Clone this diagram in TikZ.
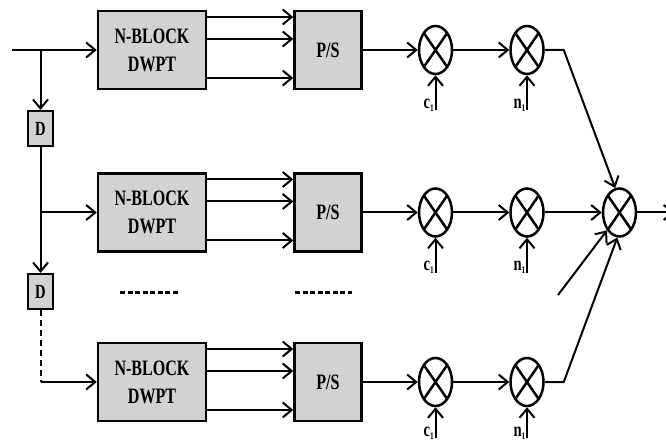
\documentclass[tikz,border=0pt]{standalone}
\usepackage{fontspec}
\setmainfont{Liberation Serif}[FakeStretch=0.73]
\usetikzlibrary{arrows.meta,positioning,shapes.geometric}
\definecolor{blkgray}{HTML}{D2D2D2}
\newcommand{\idx}[1]{\raisebox{-3pt}{\fontsize{10}{10}\selectfont #1}}

\begin{document}
\begin{tikzpicture}[x=1pt, y=1pt,
      blk/.style={draw, line width=2.5pt, fill=blkgray, align=center, inner sep=0pt,
                  minimum width=108pt, minimum height=78pt, font=\fontsize{22}{28}\selectfont\bfseries},
      psbox/.style={blk, minimum width=67pt},
      dbox/.style={blk, line width=2pt, minimum width=25pt, minimum height=35pt, font=\fontsize{20}{22}\selectfont\bfseries},
      mixer/.style={draw, ellipse, line width=2.5pt, inner sep=0pt, minimum width=33pt, minimum height=48pt,
                    path picture={\draw[line width=2.5pt] (path picture bounding box.north west) -- (path picture bounding box.south east)
                                  (path picture bounding box.south west) -- (path picture bounding box.north east);}},
      lbl/.style={font=\fontsize{20}{20}\selectfont\bfseries, inner sep=0pt},
      arr/.style={-{Straight Barb[length=9pt, width=15pt]}, line width=2pt},
      ln/.style={line width=2pt},
      dots/.style={line width=3pt, dash pattern=on 5pt off 2.5pt}]
    \useasboundingbox (0,0) rectangle (666,-443);
    % row 1
    \node[blk] (blk1) at (152,-50) {N-BLOCK\\DWPT};
    \node[psbox, right=86pt of blk1] (ps1) {P/S};
    \node[mixer, right=55pt of ps1] (mc1) {};
    \node[mixer, right=56pt of mc1] (mn1) {};
    % row 2
    \node[blk, below=82pt of blk1] (blk2) {N-BLOCK\\DWPT};
    \node[psbox, right=86pt of blk2] (ps2) {P/S};
    \node[mixer, right=55pt of ps2] (mc2) {};
    \node[mixer, right=56pt of mc2] (mn2) {};
    \node[mixer, right=57pt of mn2] (comb) {};
    % row 3
    \node[blk, below=89pt of blk2] (blk3) {N-BLOCK\\DWPT};
    \node[psbox, right=86pt of blk3] (ps3) {P/S};
    \node[mixer, right=55pt of ps3] (mc3) {};
    \node[mixer, right=56pt of mc3] (mn3) {};
    % delays
    \node[dbox] (d1) at (40.5,-128.5) {D};
    \node[dbox] (d2) at (40.5,-291.5) {D};
    \coordinate (in) at (12,-50);
    \coordinate (tap1) at (d1 |- blk1);
    \coordinate (tap2) at (d1 |- blk2);
    \coordinate (tap3) at (d2 |- blk3);
    \draw[arr] (in) -- (blk1); \draw[arr] (tap1) -- (d1);
    \draw[ln] (d1) -- (tap2); \draw[arr] (tap2) -- (blk2); \draw[arr] (tap2) -- (d2);
    \draw[ln, dash pattern=on 6pt off 4pt] (d2) -- (tap3); \draw[arr] (tap3) -- (blk3);
    % subbands to P/S
    \draw[arr] ([yshift=33]blk1.east) -- ([yshift=33]ps1.west); \draw[arr] ([yshift=11]blk1.east) -- ([yshift=11]ps1.west); \draw[arr] ([yshift=-28]blk1.east) -- ([yshift=-28]ps1.west);
    \draw[arr] ([yshift=33]blk2.east) -- ([yshift=33]ps2.west); \draw[arr] ([yshift=11]blk2.east) -- ([yshift=11]ps2.west); \draw[arr] ([yshift=-28]blk2.east) -- ([yshift=-28]ps2.west);
    \draw[arr] ([yshift=33]blk3.east) -- ([yshift=33]ps3.west); \draw[arr] ([yshift=11]blk3.east) -- ([yshift=11]ps3.west); \draw[arr] ([yshift=-28]blk3.east) -- ([yshift=-28]ps3.west);
    % spreading and noise
    \draw[arr] (ps1) -- (mc1); \draw[arr] (mc1) -- (mn1);
    \draw[arr] (ps2) -- (mc2); \draw[arr] (mc2) -- (mn2);
    \draw[arr] (ps3) -- (mc3); \draw[arr] (mc3) -- (mn3);
    \coordinate[below=35pt of mc1.south] (c1); \coordinate[below=35pt of mn1.south] (n1);
    \coordinate[below=35pt of mc2.south] (c2); \coordinate[below=35pt of mn2.south] (n2);
    \coordinate[below=31pt of mc3.south] (c3); \coordinate[below=31pt of mn3.south] (n3);
    \draw[arr] (c1) -- (mc1); \draw[arr] (n1) -- (mn1);
    \draw[arr] (c2) -- (mc2); \draw[arr] (n2) -- (mn2);
    \draw[arr] (c3) -- (mc3); \draw[arr] (n3) -- (mn3);
    \node[lbl, anchor=base east] (c1lab) at ([xshift=-1.5pt, yshift=2pt]c1) {c\idx{1}};
    \node[lbl, anchor=base east] (n1lab) at ([xshift=-1.5pt, yshift=2pt]n1) {n\idx{1}};
    \node[lbl, anchor=base east] (c2lab) at ([xshift=-1.5pt, yshift=2pt]c2) {c\idx{1}};
    \node[lbl, anchor=base east] (n2lab) at ([xshift=-1.5pt, yshift=2pt]n2) {n\idx{1}};
    \node[lbl, anchor=base east] (c3lab) at ([xshift=-1.5pt, yshift=2pt]c3) {c\idx{1}};
    \node[lbl, anchor=base east] (n3lab) at ([xshift=-1.5pt, yshift=2pt]n3) {n\idx{1}};
    % combiner
    \coordinate[right=19pt of mn1] (bend1);
    \coordinate[right=19pt of mn3] (bend3);
    \coordinate (more) at (558,-295);
    \coordinate[right=37pt of comb] (out);
    \draw[arr] (mn1) -- (bend1) -- (comb.100);
    \draw[arr] (mn2) -- (comb);
    \draw[arr] (mn3) -- (bend3) -- (comb.265);
    \draw[arr] (more) -- (comb.235);
    \draw[arr] (comb) -- (out);
    % more branches
    \draw[dots] (120,-293) -- (178,-293);
    \draw[dots] (295,-293) -- (352,-293);
  \end{tikzpicture}
\end{document}
